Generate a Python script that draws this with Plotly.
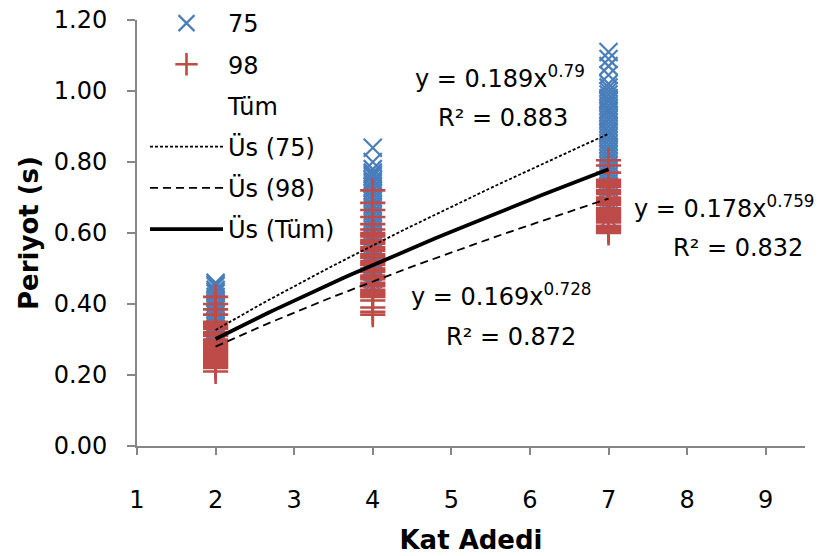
import numpy as np
import plotly.graph_objects as go

# ---- data ----
x_levels = [2, 4, 7]

s75_x2 = [0.46, 0.455, 0.45, 0.44, 0.435, 0.43, 0.42, 0.41, 0.40, 0.39, 0.385, 0.375,
          0.37, 0.36, 0.35, 0.345, 0.335, 0.33, 0.32, 0.31, 0.30, 0.295, 0.285, 0.28,
          0.27, 0.26, 0.25, 0.245]
s75_x4 = [0.84, 0.80, 0.78, 0.77, 0.765, 0.76, 0.75, 0.745, 0.74, 0.73, 0.72, 0.71,
          0.70, 0.69, 0.68, 0.67, 0.66, 0.65, 0.64, 0.63, 0.62, 0.61, 0.60, 0.59, 0.58,
          0.575, 0.57, 0.56, 0.555, 0.55, 0.54, 0.535, 0.53, 0.52, 0.51, 0.50, 0.49,
          0.48, 0.47, 0.46, 0.45]
s75_x7 = [1.11, 1.09, 1.07, 1.045, 1.02, 1.01, 1.00, 0.99, 0.98, 0.975, 0.97, 0.96,
          0.95, 0.945, 0.94, 0.93, 0.92, 0.91, 0.90, 0.89, 0.885, 0.88, 0.87, 0.86,
          0.85, 0.84, 0.83, 0.82, 0.81, 0.80, 0.79, 0.78, 0.77, 0.76, 0.75, 0.74,
          0.73, 0.72, 0.70, 0.68, 0.66, 0.64]

s98_x2 = [0.42, 0.40, 0.385, 0.37, 0.35, 0.345, 0.34, 0.335, 0.33, 0.32, 0.315, 0.31,
          0.30, 0.295, 0.29, 0.285, 0.28, 0.275, 0.27, 0.265, 0.26, 0.255, 0.25,
          0.245, 0.24, 0.235, 0.23, 0.225, 0.22, 0.21]
s98_x4 = [0.72, 0.685, 0.665, 0.645, 0.625, 0.61, 0.60, 0.595, 0.59, 0.58, 0.575,
          0.57, 0.56, 0.555, 0.55, 0.54, 0.535, 0.53, 0.52, 0.515, 0.51, 0.50, 0.495,
          0.49, 0.48, 0.475, 0.47, 0.46, 0.455, 0.45, 0.44, 0.435, 0.43, 0.425, 0.42,
          0.41, 0.39, 0.378, 0.37]
s98_x7 = [0.805, 0.79, 0.77, 0.75, 0.745, 0.74, 0.735, 0.73, 0.72, 0.715, 0.71,
          0.70, 0.695, 0.69, 0.685, 0.68, 0.67, 0.665, 0.66, 0.655, 0.65, 0.645,
          0.64, 0.635, 0.63, 0.62, 0.615, 0.61, 0.605, 0.60]

# power-law fits y = a * x^b and R² (from the chart labels)
fit_75 = (0.189, 0.79, 0.883)
fit_98 = (0.169, 0.728, 0.872)
fit_all = (0.178, 0.759, 0.832)
fit_x_range = (2, 7)

x_axis_range = [1, 9.5]
y_axis_range = [0, 1.2]

FONT = "DejaVu Sans"
BLUE = "#4a7ebb"
RED = "#be4b48"
FS = 24

# plot-area pixel geometry (for placing text labels)
L, R, T, B = 137, 805, 20, 446

def px2paper(px, py):
    return (px - L) / (R - L), (B - py) / (B - T)

fig = go.Figure()

bx, by = [], []
for xv, vals in zip(x_levels, [s75_x2, s75_x4, s75_x7]):
    bx += [xv] * len(vals); by += vals
rx, ry = [], []
for xv, vals in zip(x_levels, [s98_x2, s98_x4, s98_x7]):
    rx += [xv] * len(vals); ry += vals

fig.add_trace(go.Scatter(x=bx, y=by, mode="markers", name="75", legendgroup="a",
                         marker=dict(symbol="x-thin", size=18, line=dict(color=BLUE, width=2.2))))
fig.add_trace(go.Scatter(x=rx, y=ry, mode="markers", name="98", legendgroup="b",
                         marker=dict(symbol="cross-thin", size=18, line=dict(color=RED, width=2.6))))
fig.add_trace(go.Scatter(x=[None], y=[None], mode="markers", name="Tüm", legendgroup="c",
                         marker=dict(symbol="circle", size=1, color="rgba(0,0,0,0)")))

xs = np.linspace(fit_x_range[0], fit_x_range[1], 60)
for (a, b, r2), name, dash, w, g in [
    (fit_75, "Üs (75)", "3px,2px", 1.8, "d"),
    (fit_98, "Üs (98)", "8px,5px", 1.8, "e"),
    (fit_all, "Üs (Tüm)", "solid", 3.8, "f"),
]:
    fig.add_trace(go.Scatter(x=xs, y=a * xs ** b, mode="lines", name=name, legendgroup=g,
                             line=dict(color="black", width=w, dash=dash)))

def ann(text, px, py):
    xp, yp = px2paper(px, py)
    fig.add_annotation(text=text, x=xp, y=yp, xref="paper", yref="paper", showarrow=False,
                       xanchor="center", yanchor="middle",
                       font=dict(family=FONT, size=FS, color="black"))

for (a, b, r2), (eqx, eqy), (rx_, ry_) in [
    (fit_75, (500, 77), (503, 118)),
    (fit_all, (724, 207), (738, 248)),
    (fit_98, (502, 295), (511, 337)),
]:
    ann(f"y = {a:g}x<sup>{b:g}</sup>", eqx, eqy)
    ann(f"R² = {r2:.3f}", rx_, ry_)

axis_common = dict(showline=True, linecolor="#868686", linewidth=2, showgrid=False,
                   zeroline=False, ticks="outside", tickcolor="#868686", tickwidth=1.5,
                   tickfont=dict(family=FONT, size=FS, color="black"))

lx, ly = px2paper(145, 1)
fig.update_layout(
    width=832, height=556,
    margin=dict(l=L, r=832 - R, t=T, b=556 - B, autoexpand=False),
    paper_bgcolor="white", plot_bgcolor="white",
    font=dict(family=FONT, size=FS, color="black"),
    showlegend=True,
    legend=dict(x=lx, y=ly, xanchor="left", yanchor="top",
                bgcolor="rgba(0,0,0,0)",
                font=dict(family=FONT, size=FS), itemwidth=73, tracegroupgap=7,
                traceorder="grouped"),
    xaxis=dict(range=x_axis_range, tickmode="array", tickvals=list(range(1, 10)),
               ticklen=7, ticklabelstandoff=24,
               title=dict(text="<b>Kat Adedi</b>", font=dict(family=FONT, size=26), standoff=18),
               **axis_common),
    yaxis=dict(range=y_axis_range, tickmode="array",
               tickvals=[0, 0.2, 0.4, 0.6, 0.8, 1.0, 1.2], tickformat=".2f",
               ticklen=8, ticklabelstandoff=15,
               title=dict(text="<b>Periyot (s)</b>", font=dict(family=FONT, size=26), standoff=8),
               **axis_common),
)

fig.write_html("out.html")
